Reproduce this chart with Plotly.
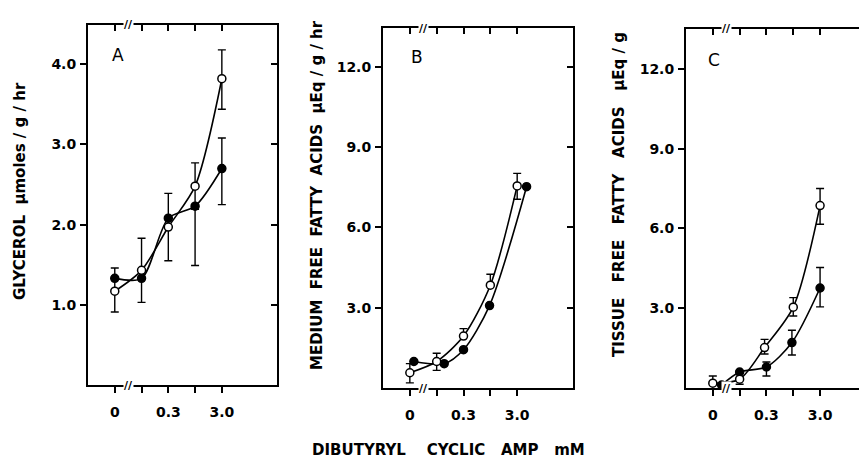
import plotly.graph_objects as go

# ---------------- data ----------------
x_tickvals = [0, 1, 2, 3, 4]
x_ticktext = ["0", "", "0.3", "", "3.0"]

# Panel A: glycerol (umoles/g/hr)
a_open_x = [0, 1, 2, 3, 4]
a_open_y = [1.17, 1.43, 1.97, 2.48, 3.82]
a_open_ep = [0.29, 0.40, 0.42, 0.29, 0.36]
a_open_em = [0.26, 0.40, 0.42, 0.29, 0.38]
a_fill_x = [0, 1, 2, 3, 4]
a_fill_y = [1.33, 1.33, 2.08, 2.23, 2.70]
a_fill_ep = [0, 0, 0, 0, 0.38]
a_fill_em = [0, 0, 0, 0.74, 0.45]
a_ticks = [1, 2, 3, 4]
a_ticktext = ["1.0", "2.0", "3.0", "4.0"]

# Panel B: medium FFA (uEq/g/hr)
b_open_x = [0, 1, 2, 3, 4]
b_open_y = [0.57, 0.99, 1.94, 3.84, 7.55]
b_open_ep = [0.34, 0.31, 0.28, 0.41, 0.47]
b_open_em = [0.38, 0.33, 0.0, 0.0, 0.50]
b_fill_x = [0.15, 1.28, 2.0, 2.97, 4.35]
b_fill_y = [0.99, 0.91, 1.43, 3.08, 7.52]
b_fill_ep = [0, 0, 0, 0, 0]
b_fill_em = [0, 0, 0, 0, 0]

# Panel C: tissue FFA (uEq/g)
c_open_x = [0, 1, 1.93, 3, 4]
c_open_y = [0.18, 0.33, 1.52, 3.04, 6.86]
c_open_ep = [0.27, 0.0, 0.31, 0.36, 0.64]
c_open_em = [0.0, 0.19, 0.24, 0.33, 0.70]
c_fill_x = [0.33, 1, 2, 2.95, 4]
c_fill_y = [0.11, 0.60, 0.79, 1.71, 3.76]
c_fill_ep = [0, 0, 0.19, 0.46, 0.77]
c_fill_em = [0, 0, 0.34, 0.47, 0.71]

bc_ticks = [3, 6, 9, 12]
bc_ticktext = ["3.0", "6.0", "9.0", "12.0"]

# ---------------- layout helpers ----------------
OFF = 8                      # page body margin
W, H = 867 - OFF, 467 - OFF
FONT = "DejaVu Sans"
BLACK = "black"


def px_x(p):
    return (p - OFF) / W


def px_y(p):
    return 1 - (p - OFF) / H


panels = [
    dict(n="", ov="4", xdom=[px_x(88), px_x(277)], ydom=[px_y(385), px_y(25)],
         xr=[-1.0, 6.06], yr=[0, 4.49], yt=a_ticks, ytt=a_ticktext,
         data=[(a_fill_x, a_fill_y, a_fill_ep, a_fill_em, True),
               (a_open_x, a_open_y, a_open_ep, a_open_em, False)],
         right=True),
    dict(n="2", ov="5", xdom=[px_x(383), px_x(573)], ydom=[px_y(388), px_y(28)],
         xr=[-1.0, 6.08], yr=[0, 13.45], yt=bc_ticks, ytt=bc_ticktext,
         data=[(b_fill_x, b_fill_y, b_fill_ep, b_fill_em, True),
               (b_open_x, b_open_y, b_open_ep, b_open_em, False)],
         right=True),
    dict(n="3", ov="6", xdom=[px_x(686), 1.0], ydom=[px_y(388), px_y(29)],
         xr=[-1.0, 5.75], yr=[0, 13.5], yt=bc_ticks, ytt=bc_ticktext,
         data=[(c_fill_x, c_fill_y, c_fill_ep, c_fill_em, True),
               (c_open_x, c_open_y, c_open_ep, c_open_em, False)],
         right=False),
]

fig = go.Figure()
layout = dict(width=W, height=H, margin=dict(l=0, r=0, t=0, b=0),
              paper_bgcolor="white", plot_bgcolor="white", showlegend=False,
              font=dict(family=FONT, color=BLACK, size=12))

tickfont = dict(family=FONT, size=14, color=BLACK, weight="bold")

for p in panels:
    xa, ya = "x" + p["n"], "y" + p["n"]
    xo, yo = "x" + p["ov"], "y" + p["ov"]
    for (xs, ys, ep, em, filled) in p["data"]:
        fig.add_trace(go.Scatter(
            x=xs, y=ys, xaxis=xa, yaxis=ya, mode="lines+markers",
            line=dict(color=BLACK, width=1.6, shape="spline", smoothing=0.8),
            marker=dict(size=8, symbol="circle",
                        color=BLACK if filled else "white",
                        line=dict(color=BLACK, width=1.5)),
            error_y=dict(type="data", symmetric=False, array=ep, arrayminus=em,
                         color=BLACK, thickness=1.4, width=4),
            hoverinfo="skip"))
    # invisible trace to anchor overlay axes (top / right ticks)
    fig.add_trace(go.Scatter(x=[None], y=[None], xaxis=xo, yaxis=yo,
                             mode="markers", hoverinfo="skip"))

    layout["xaxis" + p["n"]] = dict(
        domain=p["xdom"], anchor=ya, range=p["xr"], tickmode="array",
        tickvals=x_tickvals, ticktext=x_ticktext, ticks="outside", ticklen=6,
        tickwidth=2, tickcolor=BLACK, showline=True, linewidth=2,
        linecolor=BLACK, showgrid=False, zeroline=False, tickfont=tickfont,
        ticklabelstandoff=7, fixedrange=True)
    layout["yaxis" + p["n"]] = dict(
        domain=p["ydom"], anchor=xa, range=p["yr"], tickmode="array",
        tickvals=p["yt"], ticktext=p["ytt"], ticks="outside", ticklen=6,
        tickwidth=2, tickcolor=BLACK, showline=True, linewidth=2,
        linecolor=BLACK, showgrid=False, zeroline=False, tickfont=tickfont,
        ticklabelstandoff=1, fixedrange=True)
    layout["xaxis" + p["ov"]] = dict(
        overlaying=xa, side="top", anchor=yo, range=p["xr"], tickmode="array",
        tickvals=x_tickvals, ticks="inside", ticklen=6, tickwidth=2,
        tickcolor=BLACK, showticklabels=False, showline=True, linewidth=2,
        linecolor=BLACK, showgrid=False, zeroline=False, fixedrange=True)
    layout["yaxis" + p["ov"]] = dict(
        overlaying=ya, side="right", anchor=xo, range=p["yr"], tickmode="array",
        tickvals=p["yt"], ticks="inside" if p["right"] else "", ticklen=6,
        tickwidth=2, tickcolor=BLACK, showticklabels=False,
        showline=p["right"], linewidth=2, linecolor=BLACK, showgrid=False,
        zeroline=False, fixedrange=True)

fig.update_layout(**layout)

# axis break marks
for p in panels:
    xa, ya = "x" + p["n"], "y" + p["n"]
    for yy in (0, 1):
        fig.add_annotation(x=0.5, y=yy, xref=xa, yref=ya + " domain",
                           text="<b>//</b>", showarrow=False, bgcolor="white",
                           font=dict(family=FONT, size=11, color=BLACK),
                           xanchor="center", yanchor="middle", borderpad=0)

# panel letters
for letter, (lx, ly) in zip(["A", "B", "C"], [(118, 55), (417, 57), (714, 60)]):
    fig.add_annotation(x=px_x(lx), y=px_y(ly), xref="paper", yref="paper",
                       text=letter, showarrow=False,
                       font=dict(family=FONT, size=17, color=BLACK),
                       xanchor="center", yanchor="middle")

# y-axis titles
ytitles = [("GLYCEROL  μmoles / g / hr", 20, 191),
           ("MEDIUM  FREE  FATTY  ACIDS  μEq / g / hr", 317, 195),
           ("TISSUE   FREE   FATTY   ACIDS   μEq / g", 619, 195)]
for t, tx, ty in ytitles:
    fig.add_annotation(x=px_x(tx), y=px_y(ty), xref="paper", yref="paper",
                       text="<b>" + t + "</b>", showarrow=False, textangle=-90,
                       font=dict(family=FONT, size=15, color=BLACK),
                       xanchor="center", yanchor="middle")

# x-axis title
fig.add_annotation(x=px_x(448), y=px_y(450), xref="paper", yref="paper",
                   text="<b>DIBUTYRYL    CYCLIC   AMP   mM</b>", showarrow=False,
                   font=dict(family=FONT, size=15, color=BLACK),
                   xanchor="center", yanchor="middle")

fig.write_html("out.html")
